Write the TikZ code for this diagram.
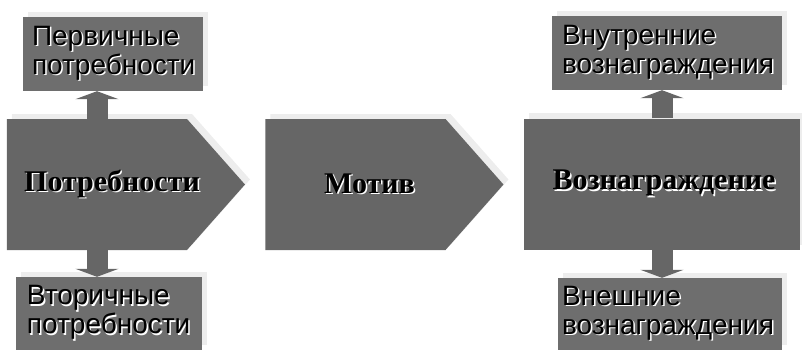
\documentclass[tikz,border=0pt]{standalone}
\usepackage{fontspec}
\setmainfont{Liberation Serif}
\setsansfont{Liberation Sans}
\usetikzlibrary{shapes.symbols,shadows,arrows.meta}

\newcommand{\shtext}[1]{\leavevmode\rlap{\kern1.5pt\raisebox{-1.5pt}{\color{white}#1}}#1} % text with a light shadow

\tikzset{
	lightshadow/.style={drop shadow={shadow xshift=5pt, shadow yshift=5pt, fill=black!7, opacity=1}},
	bigshape/.style={fill=black!60, inner sep=0pt, minimum height=131pt, lightshadow},
	pent/.style={bigshape, signal, signal to=east, signal pointer angle=97, minimum width=238pt},
	bigtext/.style={font=\bfseries\fontsize{30}{36}\selectfont, text=black},
	smallbox/.style={fill=black!57, inner xsep=9pt, inner ysep=0pt, minimum height=74pt,
		align=left, font=\sffamily\fontsize{28}{29}\selectfont, lightshadow},
	blockarrow/.style={draw=black!60, line width=21pt, -{Triangle[width=43pt,length=8pt]}}
}

\begin{document}
\begin{tikzpicture}[x=1pt,y=-1pt]
	\useasboundingbox (0,0) rectangle (802,350);
	% main chain
	\node[pent, label={[bigtext,xshift=15pt]center:\shtext{Потребности}}] (need) at (97,184.5) {};
	\node[pent, label={[bigtext,xshift=14pt]center:\shtext{Мотив}}] (motive) at (355.5,184.5) {};
	\node[bigshape, minimum width=276pt, label={[bigtext,xshift=2pt]center:\shtext{Вознаграждение}}] (reward) at (662,184) {};
	% small boxes
	\node[smallbox, text width=162pt] (prim) at (113,54) {\shtext{Первичные}\\\shtext{потребности}};
	\node[smallbox, text width=164pt, inner xsep=11pt, minimum height=73pt] (sec) at (109,313.5) {\shtext{Вторичные}\\\shtext{потребности}};
	\node[smallbox, text width=210pt, inner xsep=10pt] (intr) at (667,53) {\shtext{Внутренние}\\\shtext{вознаграждения}};
	\node[smallbox, text width=216pt, inner xsep=4pt, minimum height=72pt] (extr) at (670,314) {\shtext{Внешние}\\\shtext{вознаграждения}};
	% block arrows
	\draw[blockarrow] (need.north) -- (need.north |- prim.south);
	\draw[blockarrow] (need.south) -- (need.south |- sec.north);
	\draw[blockarrow] (reward.north) -- (reward.north |- intr.south);
	\draw[blockarrow] (reward.south) -- (reward.south |- extr.north);
\end{tikzpicture}
\end{document}
